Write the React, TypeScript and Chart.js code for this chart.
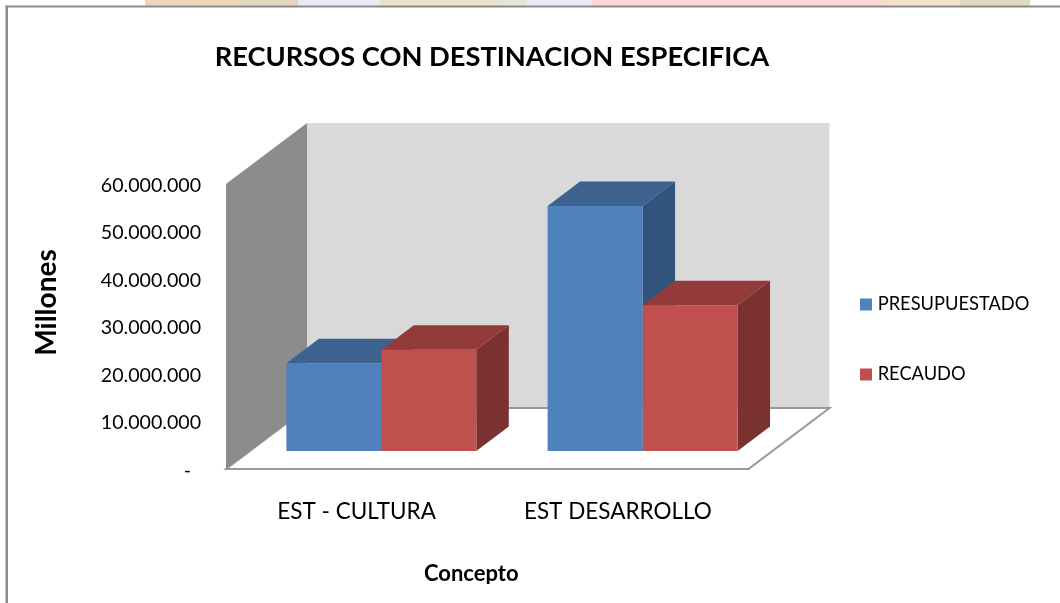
import React, { useEffect, useRef } from "react";
import { Chart, registerables } from "chart.js";

Chart.register(...registerables);

const categories = ["EST - CULTURA", "EST DESARROLLO"];
const presupuestado = [18500000, 51600000];
const recaudo = [21300000, 30700000];
const seriesNames = ["PRESUPUESTADO", "RECAUDO"];
const FONT = "Lato";

const fronts = ["#4f81bd", "#c0504d"];
const tops = ["#3d6290", "#933b39"];
const sides = ["#30547c", "#7a3230"];

const WALL_DX = 81;
const WALL_DY = 61;
const BAR_DX = 24.7;
const BAR_DY = 18;
const DEPTH_DX = 32.5;
const DEPTH_DY = 24.5;

const poly = (ctx: CanvasRenderingContext2D, pts: number[][], fill: string | null, stroke?: string, lw = 2) => {
  ctx.beginPath();
  pts.forEach((p, i) => (i ? ctx.lineTo(p[0], p[1]) : ctx.moveTo(p[0], p[1])));
  ctx.closePath();
  if (fill) {
    ctx.fillStyle = fill;
    ctx.fill();
  }
  if (stroke) {
    ctx.strokeStyle = stroke;
    ctx.lineWidth = lw;
    ctx.stroke();
  }
};

const shiftTitle = (scale: any, dx: number, dy: number) => {
  const orig = scale.drawTitle;
  scale.drawTitle = function () {
    const { left, right, top, bottom } = this;
    this.left += dx;
    this.right += dx;
    this.top += dy;
    this.bottom += dy;
    orig.call(this);
    Object.assign(this, { left, right, top, bottom });
  };
};

const shiftLabels = (scale: any, dy: number) => {
  const orig = scale.drawLabels;
  scale.drawLabels = function (area: any) {
    this.ctx.save();
    this.ctx.translate(0, dy);
    orig.call(this, area);
    this.ctx.restore();
  };
};

const scene = {
  id: "scene",
  afterLayout(chart: any) {
    const t = chart.titleBlock;
    t.left = 0;
    t.right = 984;
    const l = chart.legend;
    l.left = 811.8;
    l.right = 1060;
    l.top = 243.6;
    l.bottom = 600;
    if (!chart.$patched) {
      chart.$patched = true;
      shiftTitle(chart.scales.x, -16, 0);
      shiftTitle(chart.scales.y, 0, -24);
      shiftLabels(chart.scales.y, 1.5);
    }
  },
  beforeDraw(chart: any) {
    const ctx = chart.ctx as CanvasRenderingContext2D;
    ctx.save();
    ctx.fillStyle = "#ffffff";
    ctx.fillRect(0, 0, 1060, 603);
    const strip: [number, number, string][] = [
      [145, 190, "#eed6bd"],
      [190, 240, "#efd9bb"],
      [240, 298, "#e2d6bf"],
      [298, 380, "#e8eaf8"],
      [380, 500, "#e9e3d0"],
      [500, 527, "#e6e5dc"],
      [527, 592, "#e8eaf8"],
      [592, 882, "#fbd6d6"],
      [882, 960, "#f2e3c8"],
      [960, 1030, "#e2d8c6"],
    ];
    strip.forEach(([a, b, c]) => {
      ctx.fillStyle = c;
      ctx.fillRect(a, 0, b - a, 6);
    });
    ctx.fillStyle = "#8c8c8c";
    ctx.fillRect(5.5, 5.5, 1054.5, 2);
    ctx.fillRect(5.5, 5.5, 2.5, 597.5);
    ctx.restore();
  },
  beforeDatasetsDraw(chart: any) {
    const ctx = chart.ctx as CanvasRenderingContext2D;
    const { left, right, top, bottom } = chart.chartArea;
    ctx.save();
    poly(ctx, [[left + WALL_DX, top - WALL_DY], [right + WALL_DX, top - WALL_DY], [right + WALL_DX, bottom - WALL_DY], [left + WALL_DX, bottom - WALL_DY]], "#d9d9d9");
    poly(ctx, [[left, bottom], [left + WALL_DX, bottom - WALL_DY], [right + WALL_DX, bottom - WALL_DY], [right, bottom]], "#ffffff", "#989898");
    poly(ctx, [[left, top], [left + WALL_DX, top - WALL_DY], [left + WALL_DX, bottom - WALL_DY], [left, bottom]], "#8c8c8c");
    ctx.restore();
    ctx.save();
    ctx.translate(BAR_DX, -BAR_DY);
    chart.data.datasets.forEach((_: any, d: number) => {
      chart.getDatasetMeta(d).data.forEach((bar: any) => {
        const x0 = bar.x - bar.width / 2;
        const x1 = bar.x + bar.width / 2;
        const y0 = bar.y;
        const y1 = bar.base;
        poly(ctx, [[x1, y0], [x1 + DEPTH_DX, y0 - DEPTH_DY], [x1 + DEPTH_DX, y1 - DEPTH_DY], [x1, y1]], sides[d]);
        poly(ctx, [[x0, y0], [x0 + DEPTH_DX, y0 - DEPTH_DY], [x1 + DEPTH_DX, y0 - DEPTH_DY], [x1, y0]], tops[d]);
      });
    });
  },
  afterDatasetsDraw(chart: any) {
    chart.ctx.restore();
  },
  afterDraw(chart: any) {
    const ctx = chart.ctx as CanvasRenderingContext2D;
    ctx.save();
    ctx.fillStyle = "#ffffff";
    ctx.fillRect(300, 584, 400, 19);
    ctx.restore();
  },
};

export default function App() {
  const ref = useRef<HTMLCanvasElement>(null);
  useEffect(() => {
    const chart = new Chart(ref.current!, {
      type: "bar",
      data: {
        labels: categories,
        datasets: [
          { label: seriesNames[0], data: presupuestado, backgroundColor: fronts[0], borderWidth: 0 },
          { label: seriesNames[1], data: recaudo, backgroundColor: fronts[1], borderWidth: 0 },
        ],
      },
      plugins: [scene],
      options: {
        responsive: false,
        animation: false,
        layout: { padding: { top: 0, left: 0, right: 311.5, bottom: 0 } },
        datasets: { bar: { categoryPercentage: 0.727, barPercentage: 1 } },
        plugins: {
          tooltip: { enabled: false },
          title: {
            display: true,
            text: "RECURSOS CON DESTINACION ESPECIFICA",
            color: "#000000",
            font: { family: FONT, size: 27.25, weight: "bold", lineHeight: 1.2 },
            padding: { top: 41, bottom: 110.3 },
          },
          legend: {
            position: "chartArea",
            align: "start",
            labels: {
              usePointStyle: true,
              pointStyle: "rect",
              boxWidth: 5,
              boxHeight: 12,
              padding: 51.7,
              color: "#000000",
              font: { family: FONT, size: 18.3 },
            },
          },
        },
        scales: {
          x: {
            grid: { display: false },
            border: { display: false },
            afterFit: (s: any) => {
              s.height = 134;
            },
            ticks: { color: "#000000", padding: 21, maxRotation: 0, font: { family: FONT, size: 22.5 } },
            title: {
              display: true,
              text: "Concepto",
              color: "#000000",
              font: { family: FONT, size: 22, weight: "bold", lineHeight: 1.2 },
              padding: { top: 0, bottom: 15.8 },
            },
          },
          y: {
            min: 0,
            max: 60000000,
            grid: { display: false, drawTicks: false },
            border: { display: false },
            afterFit: (s: any) => {
              s.width = 226;
            },
            ticks: {
              stepSize: 10000000,
              color: "#000000",
              padding: 25,
              font: { family: FONT, size: 19.6 },
              callback: (v: any) => (Number(v) === 0 ? "-  " : Number(v).toLocaleString("de-DE")),
            },
            title: {
              display: true,
              text: "Millones",
              color: "#000000",
              font: { family: FONT, size: 28, weight: "bold", lineHeight: 1.2 },
              padding: { top: 30, bottom: 0 },
            },
          },
        },
      },
    } as any);
    return () => chart.destroy();
  }, []);
  return (
    <canvas
      ref={ref}
      width={1060}
      height={603}
      style={{ position: "absolute", left: 0, top: 0, width: 1060, height: 603, filter: "blur(0.4px)" }}
    />
  );
}
